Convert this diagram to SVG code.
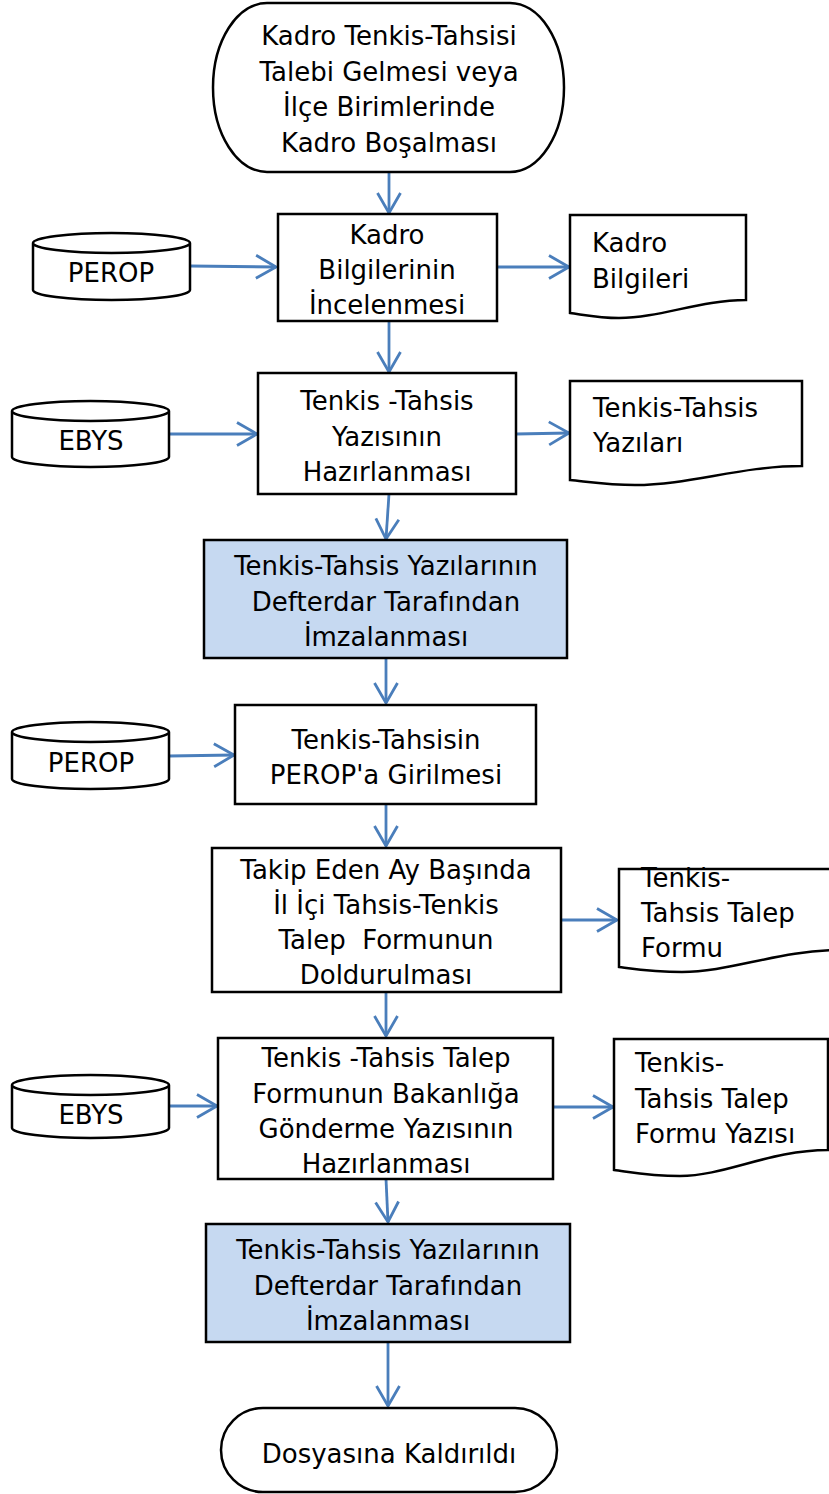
<svg xmlns="http://www.w3.org/2000/svg" width="829" height="1494" viewBox="0 0 829 1494">
<style>
.s{fill:#fff;stroke:#000;stroke-width:2.5}
.b{fill:#C6D9F1;stroke:#000;stroke-width:2.5}
text{font-family:"DejaVu Sans","Verdana",sans-serif;font-size:26px;fill:#000}
.c{text-anchor:middle}
.cn{fill:none;stroke:#4A7EBB;stroke-width:2.8;marker-end:url(#arr)}
</style>
<defs>
<marker id="arr" markerUnits="userSpaceOnUse" markerWidth="26" markerHeight="28" viewBox="0 0 26 28" refX="23" refY="14" orient="auto">
<path d="M3,2.5 L23,14 L3,25.5" fill="none" stroke="#4A7EBB" stroke-width="2.8"/>
</marker>
</defs>
<rect width="829" height="1494" fill="#fff"/>
<g id="connectors">
<path class="cn" d="M389,172 L389,213"/>
<path class="cn" d="M190,266 L276,267"/>
<path class="cn" d="M497,267 L569,267"/>
<path class="cn" d="M389,321 L389,372"/>
<path class="cn" d="M169,434 L257,434"/>
<path class="cn" d="M516,434 L569,433"/>
<path class="cn" d="M389,494 L386,539"/>
<path class="cn" d="M386,658 L386,703"/>
<path class="cn" d="M169,756 L234,755"/>
<path class="cn" d="M386,804 L386,846"/>
<path class="cn" d="M561,920 L617,920"/>
<path class="cn" d="M386,992 L386,1036"/>
<path class="cn" d="M169,1106 L217,1106"/>
<path class="cn" d="M553,1107 L613,1107"/>
<path class="cn" d="M386,1179 L388,1222"/>
<path class="cn" d="M388,1342 L388,1406"/>
</g>
<g id="start">
<rect class="s" x="213" y="3" width="351" height="169" rx="54" ry="84.5"/>
<text class="c" x="389" y="45">Kadro Tenkis-Tahsisi</text>
<text class="c" x="389" y="81">Talebi Gelmesi veya</text>
<text class="c" x="389" y="116">İlçe Birimlerinde</text>
<text class="c" x="389" y="152">Kadro Boşalması</text>
</g>
<g id="perop1">
<path class="s" d="M33,243 V290 A78.5,10 0 0 0 190,290 V243 A78.5,10 0 0 0 33,243 A78.5,10 0 0 0 190,243"/>
<text class="c" x="111" y="282">PEROP</text>
</g>
<g id="box1">
<rect class="s" x="278" y="214" width="219" height="107"/>
<text class="c" x="387" y="244">Kadro</text>
<text class="c" x="387" y="279">Bilgilerinin</text>
<text class="c" x="387" y="314">İncelenmesi</text>
</g>
<g id="doc1">
<path class="s" d="M570,215 H746 V300 C700,300 660,318 619,318 C600,318 585,315 570,313 Z"/>
<text x="592" y="252">Kadro</text>
<text x="592" y="288">Bilgileri</text>
</g>
<g id="ebys1">
<path class="s" d="M12,411 V457 A78.5,10 0 0 0 169,457 V411 A78.5,10 0 0 0 12,411 A78.5,10 0 0 0 169,411"/>
<text class="c" x="91" y="450">EBYS</text>
</g>
<g id="box2">
<rect class="s" x="258" y="373" width="258" height="121"/>
<text class="c" x="387" y="410">Tenkis -Tahsis</text>
<text class="c" x="387" y="446">Yazısının</text>
<text class="c" x="387" y="481">Hazırlanması</text>
</g>
<g id="doc2">
<path class="s" d="M570,381 H802 V466 C740,466 690,485 635,485 C610,485 590,482 570,480 Z"/>
<text x="593" y="417">Tenkis-Tahsis</text>
<text x="593" y="452">Yazıları</text>
</g>
<g id="box3">
<rect class="b" x="204" y="540" width="363" height="118"/>
<text class="c" x="386" y="575">Tenkis-Tahsis Yazılarının</text>
<text class="c" x="386" y="611">Defterdar Tarafından</text>
<text class="c" x="386" y="646">İmzalanması</text>
</g>
<g id="perop2">
<path class="s" d="M12,732 V779 A78.5,10 0 0 0 169,779 V732 A78.5,10 0 0 0 12,732 A78.5,10 0 0 0 169,732"/>
<text class="c" x="91" y="772">PEROP</text>
</g>
<g id="box4">
<rect class="s" x="235" y="705" width="301" height="99"/>
<text class="c" x="386" y="749">Tenkis-Tahsisin</text>
<text class="c" x="386" y="784">PEROP'a Girilmesi</text>
</g>
<g id="box5">
<rect class="s" x="212" y="848" width="349" height="144"/>
<text class="c" x="386" y="879">Takip Eden Ay Başında</text>
<text class="c" x="386" y="914">İl İçi Tahsis-Tenkis</text>
<text class="c" x="386" y="949" xml:space="preserve">Talep  Formunun</text>
<text class="c" x="386" y="984">Doldurulması</text>
</g>
<g id="doc3">
<path class="s" d="M619,869 H842 V950 C780,950 730,972 682,972 C655,972 635,969 619,967 Z"/>
<text x="641" y="887">Tenkis-</text>
<text x="641" y="922">Tahsis Talep</text>
<text x="641" y="957">Formu</text>
</g>
<g id="ebys2">
<path class="s" d="M12,1085 V1128 A78.5,10 0 0 0 169,1128 V1085 A78.5,10 0 0 0 12,1085 A78.5,10 0 0 0 169,1085"/>
<text class="c" x="91" y="1124">EBYS</text>
</g>
<g id="box6">
<rect class="s" x="218" y="1038" width="335" height="141"/>
<text class="c" x="386" y="1067">Tenkis -Tahsis Talep</text>
<text class="c" x="386" y="1103">Formunun Bakanlığa</text>
<text class="c" x="386" y="1138">Gönderme Yazısının</text>
<text class="c" x="386" y="1173">Hazırlanması</text>
</g>
<g id="doc4">
<path class="s" d="M614,1039 H828 V1150 C770,1150 725,1176 680,1176 C650,1176 630,1172 614,1170 Z"/>
<text x="635" y="1072">Tenkis-</text>
<text x="635" y="1108">Tahsis Talep</text>
<text x="635" y="1143">Formu Yazısı</text>
</g>
<g id="box7">
<rect class="b" x="206" y="1224" width="364" height="118"/>
<text class="c" x="388" y="1259">Tenkis-Tahsis Yazılarının</text>
<text class="c" x="388" y="1295">Defterdar Tarafından</text>
<text class="c" x="388" y="1330">İmzalanması</text>
</g>
<g id="end">
<rect class="s" x="221" y="1408" width="336" height="84" rx="42" ry="42"/>
<text class="c" x="389" y="1463">Dosyasına Kaldırıldı</text>
</g>
</svg>
